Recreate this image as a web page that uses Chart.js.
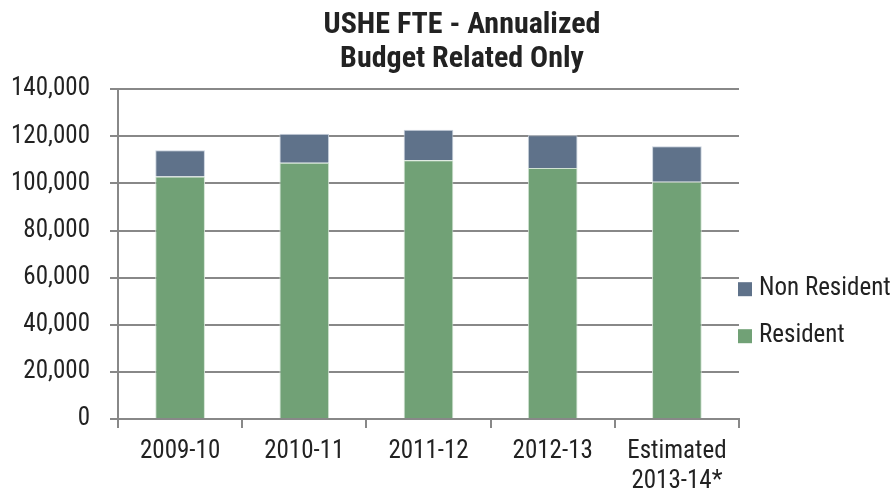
<!DOCTYPE html>
<html>
<head>
<meta charset="utf-8">
<script src="https://cdn.jsdelivr.net/npm/chart.js@4.4.0/dist/chart.umd.min.js"></script>
<style>
  html, body { margin: 0; padding: 0; background: #fff; }
</style>
</head>
<body>
<canvas id="myChart" width="892" height="496"></canvas>
<script>
const years = ['2009-10', '2010-11', '2011-12', '2012-13', ['Estimated', '2013-14*']]
const resident = [102900, 108800, 109800, 106500, 100700]
const nonResident = [11200, 12300, 13000, 13900, 15100]
const yTicks = [0, 20000, 40000, 60000, 80000, 100000, 120000, 140000]

const fuente = "'Roboto Condensed', 'Open Sans', sans-serif"
const texto = '#222222'
const gris = '#888888'

// leyenda a la derecha, dibujada a mano (Non Resident arriba)
const leyenda = {
  id: 'leyenda',
  afterDraw(chart) {
    const ctx = chart.ctx
    const area = chart.chartArea
    const items = chart.data.datasets.slice().reverse()
    let y = area.top + 200
    ctx.save()
    ctx.font = '25px ' + fuente
    ctx.textBaseline = 'middle'
    items.forEach(ds => {
      ctx.fillStyle = ds.backgroundColor
      ctx.fillRect(area.right - 1, y - 7, 14, 14)
      ctx.fillStyle = texto
      ctx.fillText(ds.label, area.right + 20, y)
      y += 47
    })
    ctx.restore()
  }
}

const ctx = document.getElementById('myChart').getContext('2d')
const myChart = new Chart(ctx, {
  type: 'bar',
  data: {
    labels: years,
    datasets: [
      {
        label: 'Resident',
        data: resident,
        backgroundColor: '#71A176',
        borderColor: '#d2e3d3',
        borderWidth: 1
      },
      {
        label: 'Non Resident',
        data: nonResident,
        backgroundColor: '#5F728A',
        borderColor: '#c9d2dd',
        borderWidth: 1
      }
    ]
  },
  options: {
    responsive: false,
    animation: false,
    // padding derecho negativo para correr el titulo un poco a la derecha
    layout: { padding: { left: 10, right: -22 } },
    datasets: { bar: { categoryPercentage: 1, barPercentage: 0.4 } },
    plugins: {
      legend: { display: false },
      tooltip: { enabled: false },
      title: {
        display: true,
        text: ['USHE FTE - Annualized', 'Budget Related Only'],
        color: texto,
        font: { family: fuente, size: 30, weight: 'bold', lineHeight: 1.12 },
        padding: { top: 9, bottom: 13 }
      }
    },
    scales: {
      x: {
        stacked: true,
        afterFit: (s) => { s.height = 77 },
        grid: { drawOnChartArea: false, color: gris, lineWidth: 2, tickLength: 9 },
        border: { color: gris, width: 2 },
        ticks: { color: texto, font: { family: fuente, size: 25, lineHeight: 1.2 }, padding: 9, maxRotation: 0 }
      },
      y: {
        stacked: true,
        min: 0,
        max: 140000,
        afterBuildTicks: (s) => { s.ticks = yTicks.map(v => ({ value: v })) },
        afterFit: (s) => { s.width = 108 },
        grid: { color: gris, lineWidth: 2, tickLength: 8 },
        border: { color: gris, width: 2 },
        ticks: {
          color: texto,
          font: { family: fuente, size: 25 },
          padding: 20,
          callback: (v) => v.toLocaleString('en-US')
        }
      },
      derecha: {
        type: 'linear',
        position: 'right',
        grid: { display: false },
        border: { display: false },
        ticks: { display: false },
        afterFit: (s) => { s.width = 175 }
      }
    }
  },
  plugins: [leyenda]
})
</script>
</body>
</html>
